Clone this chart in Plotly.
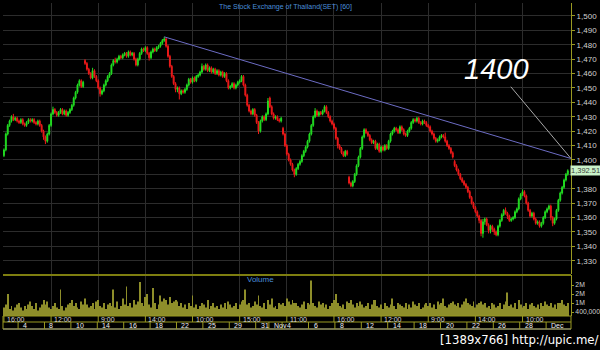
import plotly.graph_objects as go

# ---------------- data (hourly bars, 2 Oct 16:00 -> 3 Dec 2013) ----------------
opens = [1403,
 1407,1418,1424,1427,1430,1428,1429, 1427,1426,1428,1425,1424,1426,1428,
 1427,1428,1426,1425,1427,1424,1420, 1416,1413,1418,1424,1432,1435,1433,
 1431,1433,1435,1432,1434,1431,1433, 1435,1438,1443,1447,1452,1455,1451,
 1469,1467,1463,1460,1457,1462,1458, 1455,1450,1446,1448,1452,1455,1458,
 1460,1466,1469,1468,1470,1472,1471, 1473,1474,1472,1475,1473,1474,1470,
 1466,1470,1474,1477,1476,1478,1474, 1471,1475,1477,1476,1478,1479,1481,
 1483,1484,1479,1472,1465,1458,1453, 1449,1450,1446,1448,1447,1449,1452,
 1456,1454,1457,1455,1458,1459,1461, 1465,1463,1466,1462,1464,1461,1463,
 1460,1462,1459,1461,1458,1460,1455, 1450,1451,1453,1450,1452,1454,1455,
 1458,1452,1445,1438,1434,1432,1435, 1431,1426,1420,1427,1430,1428,1432,
 1443,1437,1432,1429,1430,1428,1427, 1422,1418,1410,1404,1400,1397,1393,
 1390,1394,1397,1399,1403,1406,1409, 1413,1418,1424,1430,1434,1431,1433,
 1432,1434,1437,1433,1430,1427,1425, 1422,1415,1410,1408,1405,1403,1406,
 1388,1384,1382,1385,1390,1396,1402, 1408,1416,1421,1419,1417,1414,1412,
 1413,1408,1411,1406,1409,1407,1410, 1408,1413,1418,1420,1422,1421,1419,
 1423,1421,1418,1417,1420,1422,1426, 1428,1427,1429,1426,1425,1427,1426,
 1424,1423,1420,1418,1415,1413,1414, 1416,1417,1416,1413,1410,1408,1405,
 1399,1396,1393,1390,1387,1385,1383, 1381,1378,1374,1370,1367,1364,1361,
 1358,1349,1357,1359,1355,1351,1354, 1352,1350,1348,1354,1358,1362,1365,
 1363,1361,1358,1359,1360,1364,1366, 1373,1376,1378,1375,1370,1365,1361,
 1363,1359,1356,1357,1354,1356,1360, 1364,1366,1368,1360,1356,1359,1365,
 1372,1377,1381,1386,1390]

highs = [1408,
 1419,1425,1428,1431,1432,1430,1430, 1428,1429,1429,1426,1427,1429,1429,
 1429,1429,1427,1428,1428,1425,1421, 1417,1419,1425,1433,1437,1436,1434,
 1434,1436,1436,1435,1435,1434,1436, 1439,1444,1448,1453,1456,1456,1455,
 1470,1468,1464,1461,1464,1463,1459, 1456,1451,1449,1453,1456,1459,1461,
 1467,1470,1471,1471,1473,1473,1474, 1475,1475,1476,1476,1475,1475,1471,
 1471,1475,1478,1478,1479,1479,1475, 1476,1478,1478,1479,1480,1482,1484,
 1485.5,1485,1480,1473,1466,1459,1454, 1451,1451,1449,1449,1450,1453,1457,
 1457,1458,1458,1459,1460,1462,1467, 1466,1467,1467,1465,1465,1464,1464,
 1463,1463,1462,1462,1461,1461,1456, 1452,1454,1454,1453,1455,1456,1459,
 1459,1453,1446,1439,1435,1436,1436, 1432,1427,1428,1431,1431,1433,1443,
 1444,1438,1433,1431,1431,1429,1430, 1423,1419,1411,1405,1401,1398,1394,
 1395,1398,1400,1404,1407,1410,1414, 1419,1425,1431,1436,1435,1434,1434,
 1435,1438,1438,1434,1431,1428,1426, 1423,1416,1411,1409,1406,1407,1407,
 1389,1385,1386,1391,1397,1403,1409, 1417,1422,1422,1420,1418,1415,1414,
 1414,1412,1412,1410,1410,1411,1411, 1414,1419,1421,1423,1423,1422,1424,
 1424,1422,1419,1421,1423,1427,1429, 1429,1430,1430,1427,1428,1428,1427,
 1425,1424,1421,1419,1416,1415,1417, 1418,1418,1419,1414,1411,1409,1406,
 1400,1397,1394,1391,1388,1386,1384, 1382,1379,1375,1371,1368,1365,1362,
 1359,1359,1360,1360,1356,1355,1355, 1353,1351,1355,1359,1363,1366,1367,
 1364,1362,1360,1361,1365,1367,1374, 1377,1379.5,1379,1376,1371,1366,1364,
 1364,1360,1358,1358,1357,1361,1365, 1367,1369,1369,1361,1360,1366,1373,
 1378,1382,1387,1391,1393.5]

lows = [1402,
 1406,1417,1423,1426,1427,1427,1426, 1425,1425,1424,1423,1423,1425,1426,
 1426,1425,1424,1424,1423,1419,1414, 1411,1412,1417,1423,1431,1432,1430,
 1430,1432,1431,1431,1430,1430,1432, 1434,1437,1442,1446,1451,1450,1450,
 1466,1462,1459,1456,1456,1457,1454, 1449,1444,1445,1447,1451,1454,1457,
 1459,1465,1467,1467,1469,1470,1470, 1472,1471,1471,1472,1472,1469,1465,
 1465,1469,1473,1475,1475,1473,1469, 1470,1474,1475,1475,1477,1478,1480,
 1482,1478,1471,1464,1457,1452,1447, 1447,1442,1445,1446,1446,1448,1451,
 1453,1453,1454,1454,1457,1458,1460, 1462,1462,1461,1461,1460,1460,1459,
 1459,1458,1458,1457,1457,1454,1449, 1449,1450,1449,1449,1451,1453,1454,
 1451,1444,1437,1433,1431,1431,1430, 1425,1418,1419,1426,1427,1427,1431,
 1436,1431,1428,1428,1427,1426,1426, 1417,1409,1403,1399,1396,1392,1388,
 1389,1393,1396,1398,1402,1405,1408, 1412,1417,1423,1429,1430,1430,1431,
 1431,1433,1432,1429,1426,1424,1421, 1414,1408,1407,1404,1402,1402,1403,
 1383,1381,1381,1384,1389,1395,1401, 1407,1415,1418,1416,1413,1411,1411,
 1407,1407,1405,1405,1406,1406,1407, 1407,1412,1417,1419,1420,1418,1418,
 1420,1417,1416,1416,1419,1421,1425, 1426,1426,1425,1424,1424,1425,1423,
 1422,1419,1417,1414,1412,1412,1413, 1415,1415,1412,1409,1407,1404,1401,
 1395,1392,1389,1386,1384,1382,1380, 1377,1373,1369,1366,1363,1360,1356,
 1347,1346,1355,1354,1349,1349,1350, 1348,1347,1347,1353,1357,1361,1362,
 1359,1357,1357,1358,1359,1363,1365, 1372,1375,1374,1369,1364,1360,1360,
 1358,1355,1355,1353,1353,1355,1359, 1363,1365,1358,1354,1355,1358,1364,
 1371,1376,1380,1385,1389]

closes = [1407,
 1418,1424,1427,1430,1428,1429,1427, 1426,1428,1425,1424,1426,1428,1427,
 1428,1426,1425,1427,1424,1420,1416, 1413,1418,1424,1432,1435,1433,1431,
 1433,1435,1432,1434,1431,1433,1435, 1438,1443,1447,1452,1455,1451,1454,
 1467,1463,1460,1457,1462,1458,1455, 1450,1446,1448,1452,1455,1458,1460,
 1466,1469,1468,1470,1472,1471,1473, 1474,1472,1475,1473,1474,1470,1466,
 1470,1474,1477,1476,1478,1474,1471, 1475,1477,1476,1478,1479,1481,1483,
 1484,1479,1472,1465,1458,1453,1449, 1450,1446,1448,1447,1449,1452,1456,
 1454,1457,1455,1458,1459,1461,1465, 1463,1466,1462,1464,1461,1463,1460,
 1462,1459,1461,1458,1460,1455,1450, 1451,1453,1450,1452,1454,1455,1458,
 1452,1445,1438,1434,1432,1435,1431, 1426,1420,1427,1430,1428,1432,1441,
 1437,1432,1429,1430,1428,1427,1429, 1418,1410,1404,1400,1397,1393,1390,
 1394,1397,1399,1403,1406,1409,1413, 1418,1424,1430,1434,1431,1433,1432,
 1434,1437,1433,1430,1427,1425,1422, 1415,1410,1408,1405,1403,1406,1404,
 1384,1382,1385,1390,1396,1402,1408, 1416,1421,1419,1417,1414,1412,1413,
 1408,1411,1406,1409,1407,1410,1408, 1413,1418,1420,1422,1421,1419,1423,
 1421,1418,1417,1420,1422,1426,1428, 1427,1429,1426,1425,1427,1426,1424,
 1423,1420,1418,1415,1413,1414,1416, 1417,1416,1413,1410,1408,1405,1402,
 1396,1393,1390,1387,1385,1383,1381, 1378,1374,1370,1367,1364,1361,1358,
 1349,1357,1359,1355,1351,1354,1352, 1350,1348,1354,1358,1362,1365,1363,
 1361,1358,1359,1360,1364,1366,1373, 1376,1378,1375,1370,1365,1361,1363,
 1359,1356,1357,1354,1356,1360,1364, 1366,1368,1360,1356,1359,1365,1372,
 1377,1381,1386,1390,1392.51]

# volume in thousands of shares
volumes = [700,
 900,1600,600,800,500,700,900, 1000,700,500,800,600,900,1100,
 800,600,1000,500,700,900,1200, 900,1100,700,600,800,1000,700,
 600,1900,800,500,700,900,1000, 1200,800,1000,700,600,1100,900,
 1300,900,700,800,1000,600,1100, 1200,800,700,1000,600,900,1000,
 800,1900,700,1100,600,800,1300, 900,2100,800,1000,700,1200,900,
 1100,2400,1000,800,1400,1600,900, 700,2000,1000,600,900,1500,1100,
 1300,1200,900,1400,1000,1100,1200, 1100,800,1000,700,900,600,1000,
 800,1500,700,900,600,800,1000, 900,700,1200,600,800,1000,700,
 800,600,900,700,1000,600,1100, 900,700,800,1000,600,900,1100,
 1200,1900,900,1000,700,800,1100, 900,1500,800,700,1000,600,1200,
 900,1300,700,800,600,1000,900, 1000,800,1300,1100,900,1200,1000,
 1000,800,700,900,1100,600,1000, 900,2500,1000,800,700,1100,900,
 1000,700,900,600,800,1000,1200, 1600,1000,800,700,900,600,1100,
 1000,1200,900,700,1000,800,1100, 900,700,800,1000,600,900,1200,
 1200,800,700,900,600,1000,800, 700,900,1300,800,600,1000,900,
 800,700,1000,600,900,700,1100, 900,800,1000,600,700,900,1000,
 800,1000,700,900,600,1100,900, 1000,1300,800,700,900,1000,1100,
 900,800,1000,700,900,1100,1300, 1000,900,800,1100,700,900,1000,
 1100,900,1000,700,800,600,1000, 900,700,800,1000,600,900,1100,
 1700,800,900,700,1000,600,1200, 900,700,800,1000,600,900,1000,
 800,700,900,600,1000,800,1100, 900,800,1000,700,900,600,1000,
 1000,1200,900,800,1000]

bars = list(range(len(closes)))

price_ticks = list(range(1330, 1501, 10))
# the 1,390 label sits under the last-price box in the reference
price_tick_text = ["1,330", "1,340", "1,350", "1,360", "1,370", "1,380", "",
                   "1,400", "1,410", "1,420", "1,430", "1,440", "1,450",
                   "1,460", "1,470", "1,480", "1,490", "1,500"]
vol_tickvals = [400, 1000, 1600, 2200]
vol_ticktext = ["400,000", "1M", "2M", "2M"]

time_tick_bars = [0, 25, 50, 75, 100, 125, 150, 175, 200, 225, 250, 275]
time_tick_labels = ["16:00", "12:00", "9:00", "14:00", "10:00", "15:00",
                    "11:00", "16:00", "12:00", "9:00", "14:00", "10:00"]

date_tick_bars = [8, 22, 36, 50, 64, 78, 92, 106, 120, 134, 141, 148, 162,
                  176, 190, 204, 218, 232, 246, 260, 274, 288]
date_tick_labels = ["4", "8", "10", "14", "16", "18", "22", "25", "29", "31",
                    "Nov", "4", "6", "8", "12", "14", "18", "20", "22", "26",
                    "28", "Dec"]

trend_x = [85, 300.7]
trend_y = [1485.5, 1401]

note_text = "1400"
note_tail = (261, 1463)
note_head = (300.5, 1401.3)

last_price = closes[-1]

# ---------------- figure ----------------
OLIVE = "#9A9A22"
GRID = "#2C2C2C"
X_RANGE = [-0.5, 300.7]

fig = go.Figure()
fig.add_trace(go.Candlestick(
    x=bars, open=opens, high=highs, low=lows, close=closes,
    increasing=dict(line=dict(color="#22DD22", width=1), fillcolor="#22DD22"),
    decreasing=dict(line=dict(color="#EE1A1A", width=1), fillcolor="#EE1A1A"),
    whiskerwidth=0, showlegend=False, hoverinfo="skip",
    xaxis="x", yaxis="y"))
fig.add_trace(go.Scatter(
    x=trend_x, y=trend_y, mode="lines",
    line=dict(color="#6C6CC4", width=1), showlegend=False, hoverinfo="skip",
    xaxis="x", yaxis="y"))
fig.add_trace(go.Bar(
    x=bars, y=volumes, marker=dict(color="#8E8E2A", line=dict(width=0)),
    showlegend=False, hoverinfo="skip", xaxis="x2", yaxis="y2"))

H_TOP, H_BOT = 3, 329          # pixel extents of the paper area
def py(pix):                    # pixel row -> paper fraction
    return (H_BOT - pix) / (H_BOT - H_TOP)

shapes = []
shapes.append(dict(type="line", xref="paper", yref="paper", x0=0, x1=1,
                   y0=py(275), y1=py(275), line=dict(color="#7E7E10", width=2)))
for yy, col in [(316, OLIVE), (322, OLIVE), (329, "#E2E29A")]:
    shapes.append(dict(type="line", xref="paper", yref="paper", x0=0, x1=1,
                       y0=py(yy), y1=py(yy), line=dict(color=col, width=1)))
for xx in (0, 1):
    shapes.append(dict(type="line", xref="paper", yref="paper", x0=xx, x1=xx,
                       y0=0, y1=py(316), line=dict(color=OLIVE, width=1)))
for b in time_tick_bars:
    shapes.append(dict(type="line", xref="x", yref="paper", x0=b, x1=b,
                       y0=py(322), y1=py(316), line=dict(color=OLIVE, width=1)))
for b in date_tick_bars:
    shapes.append(dict(type="line", xref="x", yref="paper", x0=b - 0.5, x1=b - 0.5,
                       y0=0, y1=py(322), line=dict(color=OLIVE, width=1)))

annotations = []
annotations.append(dict(text="The Stock Exchange of Thailand(SET) [60]",
                        xref="paper", yref="paper", x=0.497, y=py(6.5),
                        yanchor="middle", showarrow=False,
                        font=dict(size=7, color="#4A8FDA")))
annotations.append(dict(text="Volume", xref="paper", yref="paper",
                        x=0.4525, y=py(279.5), yanchor="middle", showarrow=False,
                        font=dict(size=8, color="#4A8FDA")))
for b, t in zip(time_tick_bars, time_tick_labels):
    annotations.append(dict(text=t, xref="x", yref="paper", x=b, y=py(319.2),
                            xanchor="left", yanchor="middle", xshift=1,
                            showarrow=False, font=dict(size=7, color="#D8D8D8")))
for b, t in zip(date_tick_bars, date_tick_labels):
    annotations.append(dict(text=t, xref="x", yref="paper", x=b - 0.5, y=py(325.6),
                            xanchor="left", yanchor="middle", xshift=3,
                            showarrow=False, font=dict(size=7, color="#F0F0F0")))
annotations.append(dict(text="<i>" + note_text + "</i>", x=note_head[0], y=note_head[1],
                        xref="x", yref="y", ax=note_tail[0], ay=note_tail[1],
                        axref="x", ayref="y", showarrow=True, arrowhead=0,
                        arrowwidth=1, arrowcolor="#A8A8A8", standoff=0,
                        font=dict(size=29, color="#FFFFFF", family="Liberation Sans")))
annotations.append(dict(text=f"{last_price:,.2f}", xref="paper", yref="y",
                        x=1.0, y=last_price, xanchor="left", yanchor="middle",
                        xshift=-1, showarrow=False, bgcolor="#C9F2C9", borderpad=0,
                        font=dict(size=7.5, color="#3A3A3A")))
annotations.append(dict(text="[1389x766] http://upic.me/", xref="paper", yref="paper",
                        x=(598 - 3) / 568, y=py(339), xanchor="right", yanchor="middle",
                        xshift=2, showarrow=False,
                        font=dict(size=13, color="#FFFFFF",
                                  family="DejaVu Sans Condensed, DejaVu Sans")))

fig.update_layout(
    width=600, height=350,
    margin=dict(l=3, r=29, t=H_TOP, b=350 - H_BOT, autoexpand=False),
    paper_bgcolor="#000000", plot_bgcolor="#000000",
    font=dict(family="Liberation Sans, Arial", size=8, color="#D0D0D0"),
    showlegend=False, bargap=0.5,
    xaxis=dict(domain=[0, 1], range=X_RANGE, anchor="y", automargin=False,
               tickvals=time_tick_bars, showticklabels=False, ticks="",
               showgrid=True, gridcolor=GRID, gridwidth=1, zeroline=False,
               rangeslider=dict(visible=False), showline=False),
    yaxis=dict(domain=[py(274), 1.0], range=[1320.8, 1509], side="right",
               automargin=False,
               tickvals=price_ticks, ticktext=price_tick_text, ticks="outside",
               ticklen=3, tickcolor=OLIVE, showline=True, linecolor=OLIVE,
               linewidth=1, showgrid=True, gridcolor=GRID, zeroline=False,
               tickfont=dict(size=8, color="#D0D0D0")),
    xaxis2=dict(domain=[0, 1], range=X_RANGE, anchor="y2", matches="x",
                automargin=False,
                tickvals=time_tick_bars, showticklabels=False, ticks="",
                showgrid=True, gridcolor=GRID, zeroline=False, showline=False),
    yaxis2=dict(domain=[py(316), py(275)], range=[133, 2870], side="right",
                automargin=False,
                tickvals=vol_tickvals, ticktext=vol_ticktext, ticks="outside",
                ticklen=2, tickcolor=OLIVE, showline=True, linecolor=OLIVE,
                showgrid=False, zeroline=False,
                tickfont=dict(size=6.8, color="#D0D0D0")),
    shapes=shapes, annotations=annotations,
)

fig.write_html("out.html")
